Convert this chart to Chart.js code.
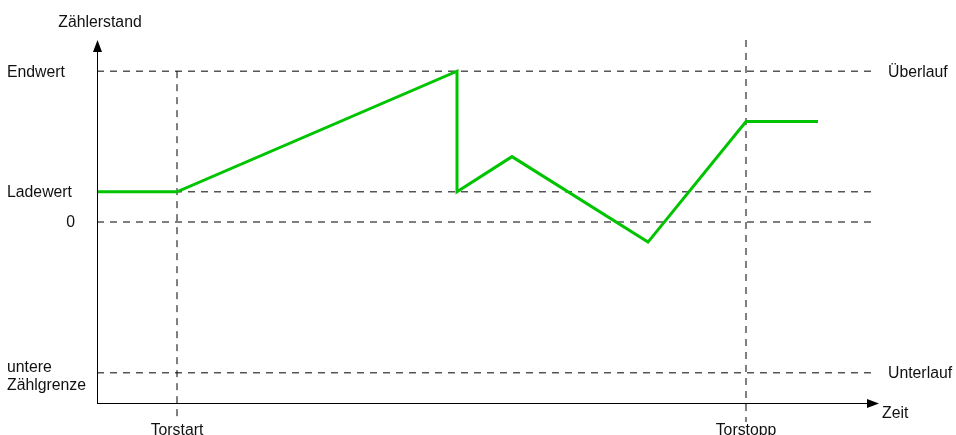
<!DOCTYPE html>
<html>
<head>
<meta charset="utf-8">
<title>Zählerstand</title>
<script src="https://cdn.jsdelivr.net/npm/chart.js@4/dist/chart.umd.min.js"></script>
<style>
  body { margin: 0; background: #fff; }
  #wrap { width: 956px; height: 435px; }
</style>
</head>
<body>
<div id="wrap"><canvas id="chart" width="956" height="435"></canvas></div>
<script>
// Counter curve (time in arbitrary units, value in counts)
const countTime = [0, 8, 36, 36, 41.5, 55.1, 64.9, 72.1];
const countValue = [3, 3, 15, 3, 6.5, -2, 10, 10];

// Horizontal reference levels
const levelLabels = ['Endwert', 'Ladewert', '0', ['untere', 'Zählgrenze']];
const levelValues = [15, 3, 0, -15];
const levelEnd = 77.5;

// Right-side notes for the limit levels
const limitLabels = ['Überlauf', 'Unterlauf'];
const limitValues = [15, -15];

// Gate markers
const gateLabels = ['Torstart', 'Torstopp'];
const gateTimes = [8, 64.9];
const gateTop = [15, 18.1];
const gateBottom = -19.9;

const xMax = 78;
const yMin = -18;
const yMax = 18.1;

const FONT = '15.8px "Liberation Sans", Arial, sans-serif';
const GREEN = '#00c400';
const DASH = [7, 6];

const datasets = [];

datasets.push({
    label: 'Zählerstand',
    data: countTime.map((t, i) => ({ x: t, y: countValue[i] })),
    borderColor: GREEN,
    borderWidth: 3,
    pointRadius: 0,
    tension: 0,
    order: 0
});

levelValues.forEach(v => {
    datasets.push({
        data: [{ x: 0, y: v }, { x: levelEnd, y: v }],
        borderColor: '#000',
        borderWidth: 1,
        borderDash: DASH,
        pointRadius: 0,
        order: 1
    });
});

gateTimes.forEach((t, i) => {
    datasets.push({
        data: [{ x: t, y: gateTop[i] }, { x: t, y: gateBottom }],
        borderColor: '#000',
        borderWidth: 1,
        borderDash: DASH,
        pointRadius: 0,
        clip: false,
        order: 1
    });
});

// Axes with arrowheads and all text labels
const annotations = {
    id: 'annotations',
    afterDraw(chart) {
        const { ctx, chartArea, scales } = chart;
        const x = scales.x, y = scales.y;
        const x0 = Math.round(chartArea.left), y0 = Math.round(chartArea.bottom);
        const top = chartArea.top, right = chartArea.right;

        ctx.save();
        ctx.strokeStyle = '#000';
        ctx.fillStyle = '#000';
        ctx.lineWidth = 1;

        // y axis
        ctx.beginPath();
        ctx.moveTo(x0 + 0.5, y0);
        ctx.lineTo(x0 + 0.5, top + 8);
        ctx.stroke();
        ctx.beginPath();
        ctx.moveTo(x0 + 0.5, top);
        ctx.lineTo(x0 - 4, top + 12);
        ctx.lineTo(x0 + 5, top + 12);
        ctx.closePath();
        ctx.fill();

        // x axis
        ctx.beginPath();
        ctx.moveTo(x0, y0 + 0.5);
        ctx.lineTo(right - 8, y0 + 0.5);
        ctx.stroke();
        ctx.beginPath();
        ctx.moveTo(right + 2, y0 + 0.5);
        ctx.lineTo(right - 10, y0 - 4);
        ctx.lineTo(right - 10, y0 + 5);
        ctx.closePath();
        ctx.fill();

        ctx.font = FONT;
        ctx.fillStyle = '#111';
        ctx.textBaseline = 'middle';

        // axis titles
        ctx.textAlign = 'center';
        ctx.fillText('Zählerstand', x0 + 3, 23);
        ctx.textAlign = 'left';
        ctx.fillText('Zeit', right + 5, y0 + 11);

        // level labels on the left
        levelLabels.forEach((lab, i) => {
            const py = y.getPixelForValue(levelValues[i]) + 1;
            if (Array.isArray(lab)) {
                ctx.textAlign = 'left';
                ctx.fillText(lab[0], 7, py - 6);
                ctx.fillText(lab[1], 7, py + 12);
            } else if (lab === '0') {
                ctx.textAlign = 'right';
                ctx.fillText(lab, 75, py);
            } else {
                ctx.textAlign = 'left';
                ctx.fillText(lab, 7, py);
            }
        });

        // limit labels on the right
        ctx.textAlign = 'left';
        limitLabels.forEach((lab, i) => {
            ctx.fillText(lab, 888, y.getPixelForValue(limitValues[i]) + 1);
        });

        // gate labels below the axis
        ctx.textAlign = 'center';
        gateLabels.forEach((lab, i) => {
            ctx.fillText(lab, x.getPixelForValue(gateTimes[i]), 431);
        });

        ctx.restore();
    }
};

new Chart(document.getElementById('chart'), {
    type: 'line',
    data: { datasets },
    options: {
        responsive: false,
        animation: false,
        layout: { padding: { left: 97, right: 79, top: 40, bottom: 32 } },
        plugins: {
            legend: { display: false },
            tooltip: { enabled: false }
        },
        scales: {
            x: { type: 'linear', min: 0, max: xMax, display: false },
            y: { type: 'linear', min: yMin, max: yMax, display: false }
        }
    },
    plugins: [annotations]
});
</script>
</body>
</html>
